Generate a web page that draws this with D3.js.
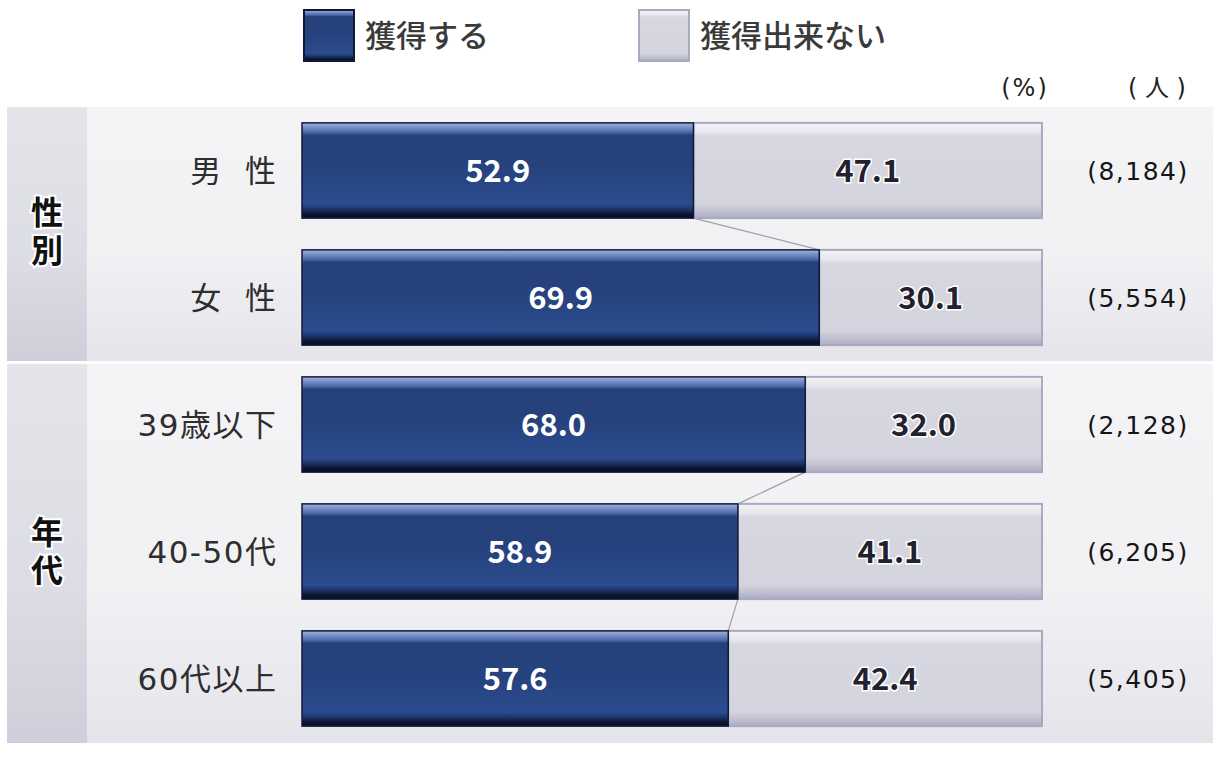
<!DOCTYPE html>
<html>
<head>
<meta charset="utf-8">
<script src="https://cdn.jsdelivr.net/npm/d3@7"></script>
<style>
  body { margin: 0; background: #fff; }
  svg text { font-family: "Noto Sans CJK JP", "Noto Sans", sans-serif; }
  svg text.lat { font-family: "DejaVu Sans", "Noto Sans CJK JP", sans-serif; }
  svg text.vert { writing-mode: vertical-rl; }
</style>
</head>
<body>
<div class="plots"></div>
<script>
// data
var groups = ["性別", "年代"];
var categories = ["男 性", "女 性", "39歳以下", "40-50代", "60代以上"];
var catGroup = [0, 0, 1, 1, 1];
var acquire = [52.9, 69.9, 68.0, 58.9, 57.6];
var notAcquire = [47.1, 30.1, 32.0, 41.1, 42.4];
var counts = ["(8,184)", "(5,554)", "(2,128)", "(6,205)", "(5,405)"];
var legendLabels = ["獲得する", "獲得出来ない"];

var width = 1222, height = 767;

var svg = d3.select(".plots").append("svg")
    .attr("width", width)
    .attr("height", height);

var defs = svg.append("defs");

function grad(id, stops) {
  var g = defs.append("linearGradient").attr("id", id)
    .attr("x1", 0).attr("y1", 0).attr("x2", 0).attr("y2", 1);
  stops.forEach(function(s) {
    g.append("stop").attr("offset", s[0]).attr("stop-color", s[1]);
  });
}
grad("blueG", [[0, "#9fb2dc"], [0.04, "#7d95cc"], [0.1, "#4b67a8"], [0.13, "#25407a"], [0.5, "#27437f"], [0.85, "#2b4c8e"], [0.9, "#1f3670"], [0.96, "#0b1530"], [1, "#070d1f"]]);
grad("greyG", [[0, "#f4f4f7"], [0.1, "#e6e6ec"], [0.14, "#d7d7e1"], [0.85, "#d4d4de"], [0.92, "#c2c2d2"], [1, "#adadc2"]]);
grad("panelG", [[0, "#f4f4f7"], [0.6, "#f1f1f4"], [1, "#e4e4ea"]]);
grad("sideG", [[0, "#e4e4ea"], [0.6, "#dcdce4"], [1, "#cfcfdb"]]);

// scales
var x = d3.scaleLinear().domain([0, 100]).range([302, 1042]);
var y = d3.scaleBand().domain(d3.range(categories.length)).range([107, 742]).paddingInner(0.25).paddingOuter(0.125);

// section backgrounds
var sections = [[107, 361], [364, 743]];
sections.forEach(function(s, i) {
  svg.append("rect").attr("x", 7).attr("y", s[0]).attr("width", 1206).attr("height", s[1] - s[0])
    .attr("fill", "url(#panelG)");
  svg.append("rect").attr("x", 7).attr("y", s[0]).attr("width", 80).attr("height", s[1] - s[0])
    .attr("fill", "url(#sideG)");
  svg.append("text").attr("class", "vert")
    .attr("x", 47).attr("y", (s[0] + s[1]) / 2)
    .attr("text-anchor", "middle").attr("font-size", 32).attr("font-weight", "bold")
    .attr("letter-spacing", 6)
    .attr("fill", "#111").attr("stroke", "#fff").attr("stroke-width", 4).attr("paint-order", "stroke")
    .text(groups[i]);
});

// legend
var legendX = [303, 638];
legendLabels.forEach(function(l, i) {
  svg.append("rect").attr("x", legendX[i] + 1).attr("y", 10).attr("width", 50).attr("height", 51)
    .attr("fill", i === 0 ? "url(#blueG)" : "url(#greyG)")
    .attr("stroke", i === 0 ? "#0f1a38" : "#a9a9c2").attr("stroke-width", 2);
  svg.append("text").attr("x", legendX[i] + 62).attr("y", 47)
    .attr("font-size", 31).attr("font-weight", 500).attr("fill", "#3a3a3a").text(l);
});

// unit labels
svg.append("text").attr("class", "lat").attr("x", 1025).attr("y", 96).attr("text-anchor", "middle")
  .attr("font-size", 24).attr("fill", "#222").attr("letter-spacing", 2).text("(%)");
svg.append("text").attr("class", "lat").attr("x", 1157).attr("y", 96).attr("text-anchor", "middle")
  .attr("font-size", 24).attr("fill", "#222").text("( 人 )");

// connector lines within groups
for (var i = 0; i < categories.length - 1; i++) {
  if (catGroup[i] !== catGroup[i + 1]) continue;
  svg.append("line")
    .attr("x1", x(acquire[i])).attr("y1", y(i) + y.bandwidth())
    .attr("x2", x(acquire[i + 1])).attr("y2", y(i + 1))
    .attr("stroke", "#a0a0a8").attr("stroke-width", 1.2);
}

var rows = svg.selectAll("g.row").data(categories).enter().append("g").attr("class", "row");

rows.append("rect")
  .attr("x", function(d, i) { return x(acquire[i]); })
  .attr("y", function(d, i) { return y(i); })
  .attr("width", function(d, i) { return x(100) - x(acquire[i]); })
  .attr("height", y.bandwidth())
  .attr("fill", "url(#greyG)")
  .attr("stroke", "#a9a9c2").attr("stroke-width", 2);

rows.append("rect")
  .attr("x", x(0))
  .attr("y", function(d, i) { return y(i); })
  .attr("width", function(d, i) { return x(acquire[i]) - x(0); })
  .attr("height", y.bandwidth())
  .attr("fill", "url(#blueG)")
  .attr("stroke", "#0f1a38").attr("stroke-width", 1.5);

rows.append("text")
  .attr("x", function(d, i) { return (x(0) + x(acquire[i])) / 2; })
  .attr("y", function(d, i) { return y(i) + y.bandwidth() / 2 + 11; })
  .attr("text-anchor", "middle").attr("font-size", 31).attr("font-weight", "bold")
  .attr("fill", "#fff")
  .text(function(d, i) { return acquire[i].toFixed(1); });

rows.append("text")
  .attr("x", function(d, i) { return (x(acquire[i]) + x(100)) / 2; })
  .attr("y", function(d, i) { return y(i) + y.bandwidth() / 2 + 11; })
  .attr("text-anchor", "middle").attr("font-size", 31).attr("font-weight", "bold")
  .attr("fill", "#22222e").attr("stroke", "#fff").attr("stroke-width", 3).attr("paint-order", "stroke")
  .text(function(d, i) { return notAcquire[i].toFixed(1); });

// category labels
function ls(d) { return d.indexOf(" ") >= 0 ? 7 : 1.5; }
rows.append("text")
  .attr("class", "lat")
  .attr("x", function(d) { return 276 + ls(d); })
  .attr("y", function(d, i) { return y(i) + y.bandwidth() / 2 + 11; })
  .attr("text-anchor", "end").attr("font-size", 31).attr("fill", "#2e2e2e")
  .attr("letter-spacing", ls)
  .text(function(d) { return d; });

// counts
rows.append("text")
  .attr("class", "lat")
  .attr("x", 1138)
  .attr("y", function(d, i) { return y(i) + y.bandwidth() / 2 + 9; })
  .attr("text-anchor", "middle").attr("font-size", 25).attr("fill", "#151515")
  .attr("letter-spacing", 1.5)
  .text(function(d, i) { return counts[i]; });
</script>
</body>
</html>
